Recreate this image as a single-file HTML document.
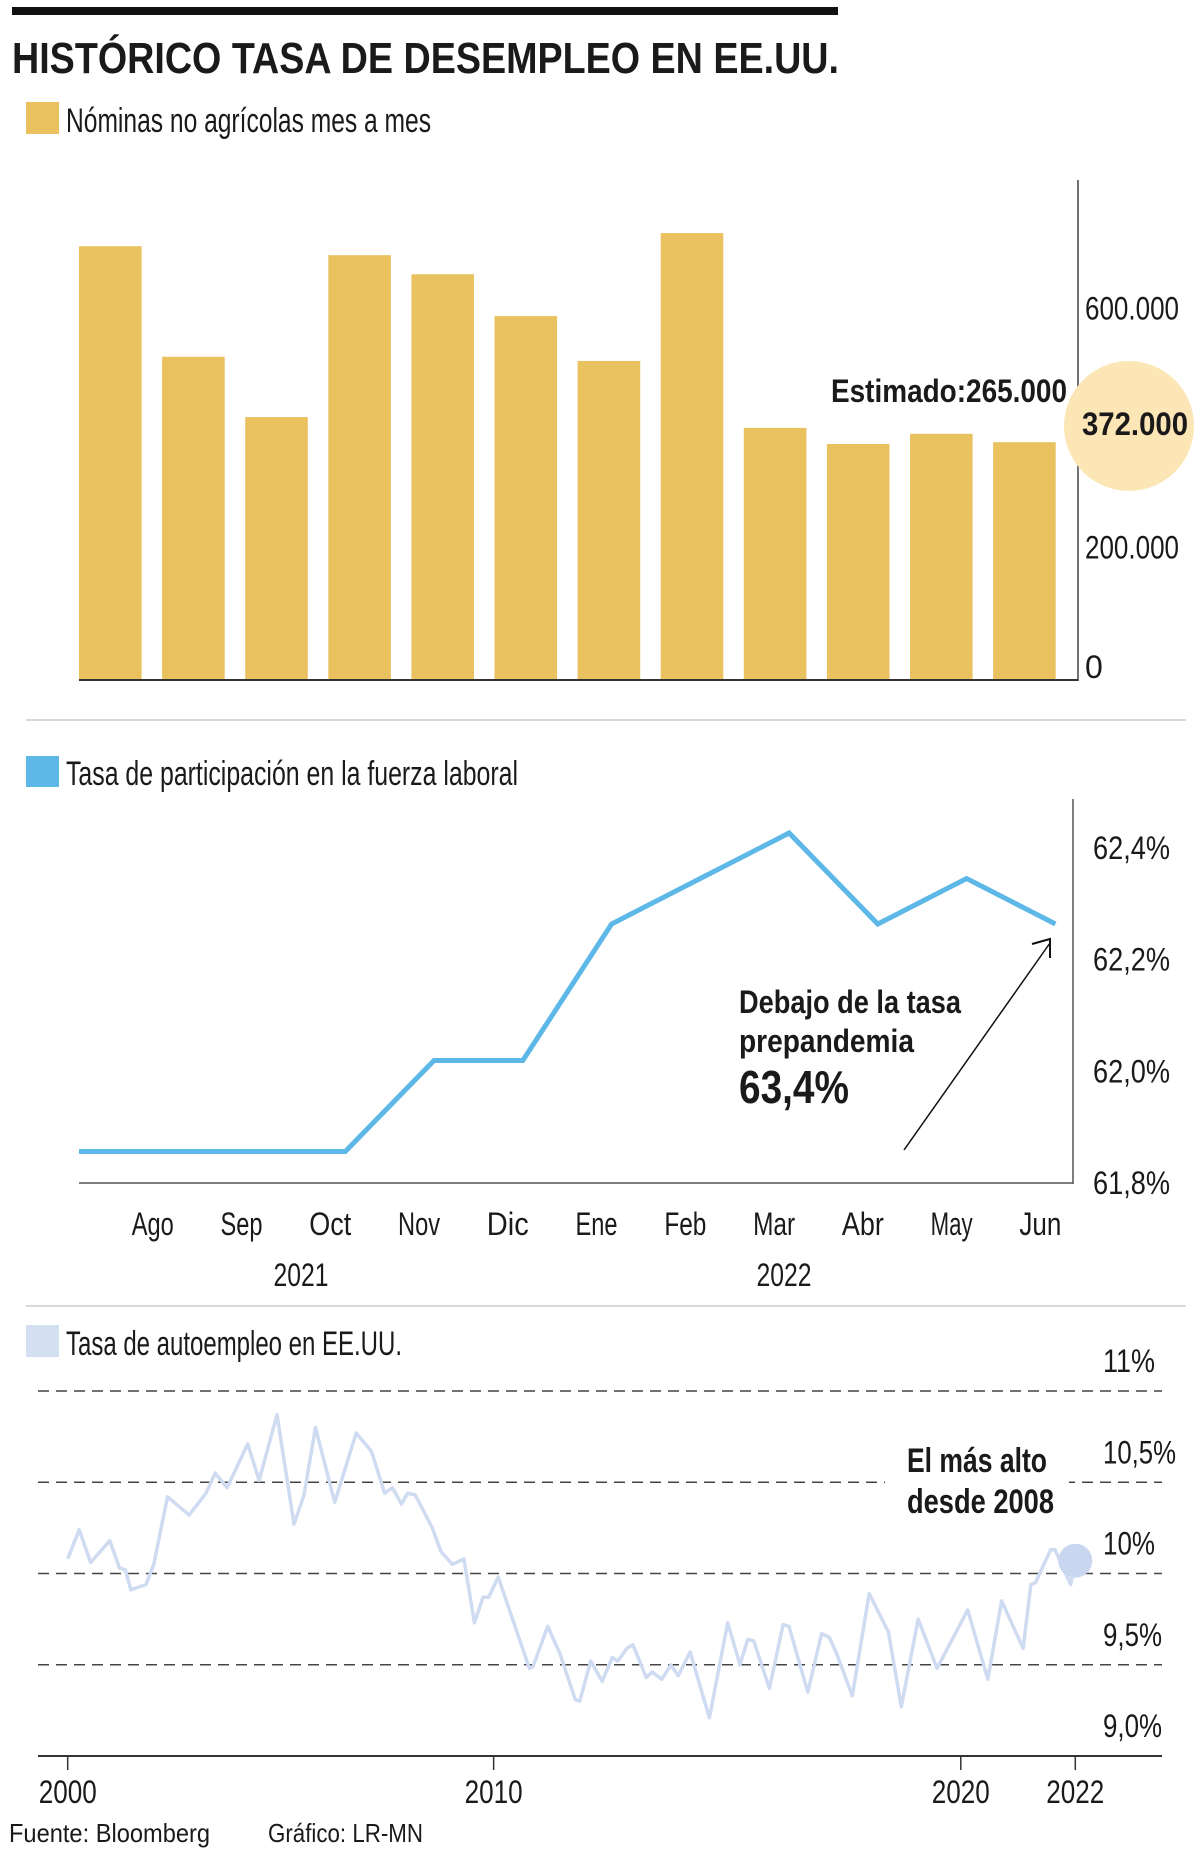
<!DOCTYPE html>
<html><head><meta charset="utf-8"><style>
html,body{margin:0;padding:0;background:#fff}
svg{display:block}
text{font-family:"Liberation Sans",sans-serif;fill:#1a1a1a}
.b{font-weight:bold}
</style></head><body>
<svg id="s" width="1200" height="1851" viewBox="0 0 1200 1851" xmlns="http://www.w3.org/2000/svg">
<rect x="12" y="7" width="826" height="8" fill="#111"/>
<text class="b" x="12" y="73" font-size="44" textLength="827" lengthAdjust="spacingAndGlyphs">HISTÓRICO TASA DE DESEMPLEO EN EE.UU.</text>

<rect x="26" y="102" width="33" height="32" fill="#e9c15f"/>
<text x="66" y="132" font-size="34" textLength="365" lengthAdjust="spacingAndGlyphs">Nóminas no agrícolas mes a mes</text>
<g id="bars"></g>
<line x1="1078" y1="180" x2="1078" y2="681" stroke="#444" stroke-width="1.5"/>
<line x1="79" y1="680" x2="1078" y2="680" stroke="#333" stroke-width="2"/>
<g id="barTicks"></g>
<circle cx="1129" cy="426" r="65" fill="#fce6b5"/>
<text class="b" x="831" y="402" font-size="32" textLength="236" lengthAdjust="spacingAndGlyphs">Estimado:265.000</text>
<text class="b" x="1082" y="435" font-size="32" textLength="106" lengthAdjust="spacingAndGlyphs">372.000</text>

<line x1="26" y1="720" x2="1186" y2="720" stroke="#ccc" stroke-width="1.5"/>

<rect x="26" y="756" width="33" height="31" fill="#5db8e8"/>
<text x="66" y="785" font-size="34" textLength="452" lengthAdjust="spacingAndGlyphs">Tasa de participación en la fuerza laboral</text>
<line x1="1073" y1="799" x2="1073" y2="1184" stroke="#555" stroke-width="1.5"/>
<line x1="79" y1="1183" x2="1073" y2="1183" stroke="#555" stroke-width="1.5"/>
<g id="lineTicks"></g>
<path id="lfpr" fill="none" stroke="#5db8e8" stroke-width="5" stroke-linejoin="miter"/>
<g id="months"></g>
<text x="301" y="1286" font-size="32" text-anchor="middle" textLength="55" lengthAdjust="spacingAndGlyphs">2021</text>
<text x="784" y="1286" font-size="32" text-anchor="middle" textLength="55" lengthAdjust="spacingAndGlyphs">2022</text>
<g>
<line x1="904" y1="1150" x2="1050" y2="943" stroke="#111" stroke-width="1.5"/>
<polyline points="1032,944 1050,939 1050,958" fill="none" stroke="#111" stroke-width="2"/>
</g>
<text class="b" x="739" y="1013" font-size="32" textLength="222" lengthAdjust="spacingAndGlyphs">Debajo de la tasa</text>
<text class="b" x="739" y="1052" font-size="32" textLength="175" lengthAdjust="spacingAndGlyphs">prepandemia</text>
<text class="b" x="739" y="1103" font-size="46" textLength="110" lengthAdjust="spacingAndGlyphs">63,4%</text>

<line x1="26" y1="1306" x2="1186" y2="1306" stroke="#ccc" stroke-width="1.5"/>

<rect x="26" y="1325" width="33" height="32" fill="#d4dff2"/>
<text x="66" y="1355" font-size="34" textLength="336" lengthAdjust="spacingAndGlyphs">Tasa de autoempleo en EE.UU.</text>
<g id="grid"></g>
<g id="seTicks"></g>
<path id="seLine" fill="none" stroke="#cfdbf1" stroke-width="3.5" stroke-linejoin="round"/>
<circle id="seDot" r="17" fill="#c9d6ef"/>
<rect x="885" y="1440" width="184" height="80" fill="#fff"/>
<text class="b" x="907" y="1472" font-size="34" textLength="140" lengthAdjust="spacingAndGlyphs">El más alto</text>
<text class="b" x="907" y="1513" font-size="34" textLength="147" lengthAdjust="spacingAndGlyphs">desde 2008</text>
<line x1="38" y1="1756" x2="1162" y2="1756" stroke="#333" stroke-width="2"/>
<g id="yearTicks"></g>

<text x="9" y="1842" font-size="26" textLength="201" lengthAdjust="spacingAndGlyphs">Fuente: Bloomberg</text>
<text x="268" y="1842" font-size="26" textLength="155" lengthAdjust="spacingAndGlyphs">Gráfico: LR-MN</text>
</svg>
<script>
// ---- Chart 1: payrolls (thousands)
const barMonths = ["Jul","Ago","Sep","Oct","Nov","Dic","Ene","Feb","Mar","Abr","May","Jun"];
const barValues = [726,541,440,711,679,609,534,748,422,395,412,398];
const barTickValues = [600,200,0];
const barTickLabels = ["600.000","200.000","0"];
// ---- Chart 2: labor force participation
const lfprMonths = ["Jul","Ago","Sep","Oct","Nov","Dic","Ene","Feb","Mar","Abr","May","Jun"];
const lfprValues = [61.7,61.7,61.7,61.7,61.9,61.9,62.2,62.3,62.4,62.2,62.3,62.2];
const lfprTickValues = [62.4,62.2,62.0,61.8];
const lfprTickLabels = ["62,4%","62,2%","62,0%","61,8%"];
// ---- Chart 3: self-employment rate
const seYears = [2000.00,2000.25,2000.50,2000.92,2001.13,2001.26,2001.38,2001.71,2001.88,2002.18,2002.65,2003.02,2003.22,2003.48,2003.93,2004.18,2004.57,2004.94,2005.16,2005.41,2005.83,2006.30,2006.63,2006.92,2007.09,2007.29,2007.42,2007.59,2007.96,2008.15,2008.40,2008.65,2008.88,2009.07,2009.19,2009.40,2010.08,2010.16,2010.48,2010.75,2011.08,2011.18,2011.42,2011.67,2011.89,2012.01,2012.21,2012.34,2012.63,2012.76,2012.97,2013.17,2013.33,2013.59,2014.01,2014.41,2014.68,2014.85,2014.98,2015.32,2015.62,2015.75,2016.16,2016.46,2016.63,2016.79,2017.13,2017.50,2017.92,2018.20,2018.57,2018.98,2019.65,2020.09,2020.39,2020.86,2021.03,2021.13,2021.46,2021.56,2021.70,2021.90,2022.00];
const seValues = [10.08,10.24,10.06,10.18,10.03,10.02,9.91,9.94,10.05,10.42,10.32,10.44,10.55,10.47,10.71,10.51,10.87,10.27,10.43,10.80,10.39,10.77,10.67,10.44,10.47,10.38,10.44,10.43,10.25,10.12,10.05,10.08,9.73,9.87,9.87,9.98,9.48,9.49,9.71,9.56,9.31,9.30,9.52,9.41,9.54,9.52,9.59,9.61,9.43,9.46,9.42,9.50,9.44,9.57,9.21,9.73,9.50,9.64,9.63,9.37,9.72,9.71,9.35,9.67,9.65,9.56,9.33,9.89,9.68,9.27,9.75,9.48,9.80,9.42,9.85,9.59,9.94,9.95,10.13,10.13,10.05,9.94,10.07];
const seGridValues = [11,10.5,10,9.5];
const seTickValues = [11,10.5,10,9.5,9];
const seTickLabels = ["11%","10,5%","10%","9,5%","9,0%"];
const yearTickPos = [2000,2009.3,2019.5,2022];
const yearTickLabels = ["2000","2010","2020","2022"];

const NS = "http://www.w3.org/2000/svg";
function mk(tag, attrs, parent){const e=document.createElementNS(NS,tag);for(const k in attrs)e.setAttribute(k,attrs[k]);parent.appendChild(e);return e;}

const barX = i => 79 + i*83.1;
const barW = 62.6;
const barY = v => 680 - v*0.5975;
const lfX = i => 79 + i*88.76;
const lfY = v => 833 - (v-62.4)*455;
const lfTickY = v => 859 + (62.4-v)/0.2*111.7;
const seX = yr => 67.7 + (yr-2000)*45.8;
const seY = v => 1756 - (v-9)*182.5;

const gb = document.getElementById('bars');
barValues.forEach((v,i)=>{
  const r = mk('rect',{x:barX(i),y:barY(v),width:barW,height:680-barY(v),fill:'#e9c15f'},gb);
  
  
});
const gbt = document.getElementById('barTicks');
barTickValues.forEach((v,i)=>{
  const t = mk('text',{x:1085,y:barY(v)-2,'font-size':32},gbt);
  if(barTickLabels[i].length>1){t.setAttribute('textLength',94);t.setAttribute('lengthAdjust','spacingAndGlyphs');}
  t.textContent = barTickLabels[i];
  
  
});

document.getElementById('lfpr').setAttribute('d', lfprValues.map((v,i)=>(i?'L':'M')+lfX(i).toFixed(1)+','+lfY(v).toFixed(1)).join(' '));
const glt = document.getElementById('lineTicks');
lfprTickValues.forEach((v,i)=>{
  const t = mk('text',{x:1093,y:lfTickY(v),'font-size':32,textLength:77,lengthAdjust:'spacingAndGlyphs'},glt);
  t.textContent = lfprTickLabels[i];
  
  
});
const gm = document.getElementById('months');
lfprMonths.forEach((m,i)=>{
  if(i===0) return;
  const t = mk('text',{x:lfX(i)-15,y:1235,'font-size':32,'text-anchor':'middle',textLength:42,lengthAdjust:'spacingAndGlyphs'},gm);
  t.textContent = m;
  
  
});

const gg = document.getElementById('grid');
seGridValues.forEach(v=>{
  const l = mk('line',{x1:38,x2:1162,y1:seY(v),y2:seY(v),stroke:'#444','stroke-width':1.5,'stroke-dasharray':'11 7'},gg);
  
  
});
const gst = document.getElementById('seTicks');
seTickValues.forEach((v,i)=>{
  const w = seTickLabels[i].length===3?52:(seTickLabels[i].length===4?59:73);
  const t = mk('text',{x:1103,y:seY(v)-19,'font-size':32,textLength:w,lengthAdjust:'spacingAndGlyphs'},gst);
  t.textContent = seTickLabels[i];
  
  
});
document.getElementById('seLine').setAttribute('d', seValues.map((v,i)=>(i?'L':'M')+seX(seYears[i]).toFixed(1)+','+seY(v).toFixed(1)).join(' '));
const dot = document.getElementById('seDot');
dot.setAttribute('cx', seX(seYears[seYears.length-1]));
dot.setAttribute('cy', seY(seValues[seValues.length-1]));
const gy = document.getElementById('yearTicks');
yearTickPos.forEach((yr,i)=>{
  const x = seX(yr);
  const l = mk('line',{x1:x,x2:x,y1:1756,y2:1770,stroke:'#333','stroke-width':1.5},gy);
  
  
  const t = mk('text',{x:x,y:1803,'font-size':32,'text-anchor':'middle',textLength:58,lengthAdjust:'spacingAndGlyphs'},gy);
  t.textContent = yearTickLabels[i];
  
  
});
</script>
</body></html>
